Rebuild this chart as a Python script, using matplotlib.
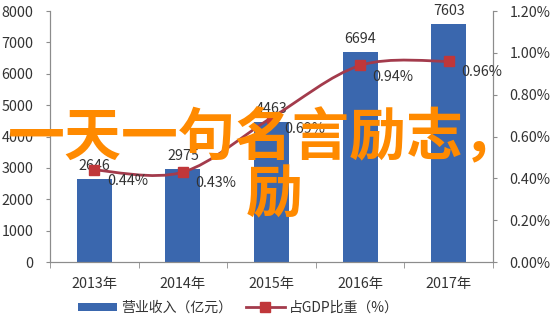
import matplotlib
matplotlib.use("Agg")
import matplotlib.pyplot as plt
import numpy as np
from matplotlib.path import Path
from matplotlib.patches import PathPatch, Patch
from matplotlib.lines import Line2D

plt.rcParams['font.family'] = ['Noto Sans CJK SC', 'DejaVu Sans']

categories = ["2013年", "2014年", "2015年", "2016年", "2017年"]
revenue = [2646, 2975, 4463, 6694, 7603]
gdp_share = [0.44, 0.43, 0.69, 0.94, 0.96]
left_ticks = [0, 1000, 2000, 3000, 4000, 5000, 6000, 7000, 8000]
right_ticks = [0.0, 0.2, 0.4, 0.6, 0.8, 1.0, 1.2]
legend_labels = ["营业收入（亿元）", "占GDP比重（%）"]
overlay_text = "一天一句名言励志，"
overlay_text2 = "励"

bar_color = "#3A67AE"
line_color = "#A33B4C"
marker_color = "#C0373A"
axis_color = "#8C8C8C"
text_color = "#333333"
fs = 10.3

fig = plt.figure(figsize=(5.5, 3.17), dpi=100)
ax = fig.add_axes([0.0909, 0.1735, 0.8055, 0.7915])
ax2 = ax.twinx()

x = np.arange(len(categories))
ax.bar(x, revenue, width=0.395, color=bar_color, zorder=2)
ax.set_xlim(-0.5, len(categories) - 0.5)
ax.set_ylim(0, 8000)
ax.set_yticks(left_ticks)
ax.set_yticklabels([str(t) for t in left_ticks], fontsize=fs, color=text_color)
ax.set_xticks(x)
ax.set_xticklabels(categories, fontsize=fs, color=text_color)
ax.tick_params(axis='x', length=0, pad=11)
ax.set_xticks(np.arange(len(categories) + 1) - 0.5, minor=True)
ax.tick_params(axis='x', which='minor', length=4, color=axis_color, direction='out')
ax.tick_params(axis='y', length=3, color=axis_color, direction='out', pad=9)

ax.spines['top'].set_visible(False)
ax2.spines['top'].set_visible(False)
for s in ['left', 'right', 'bottom']:
    ax.spines[s].set_color(axis_color)
    ax2.spines[s].set_color(axis_color)

ax2.set_ylim(0, 1.2)
ax2.set_yticks(right_ticks)
ax2.set_yticklabels([f"{t:.2f}%" for t in right_ticks], fontsize=fs, color=text_color)
ax2.tick_params(axis='y', length=3, color=axis_color, direction='out', pad=9)

# smooth line via cubic Bezier through data points (Catmull-Rom style)
pts = np.column_stack([x, gdp_share]).astype(float)
verts = [tuple(pts[0])]
codes = [Path.MOVETO]
n = len(pts)
for i in range(n - 1):
    p0 = pts[i - 1] if i > 0 else pts[i]
    p1 = pts[i]
    p2 = pts[i + 1]
    p3 = pts[i + 2] if i + 2 < n else pts[i + 1]
    c1 = p1 + (p2 - p0) / 6.0
    c2 = p2 - (p3 - p1) / 6.0
    verts += [tuple(c1), tuple(c2), tuple(p2)]
    codes += [Path.CURVE4, Path.CURVE4, Path.CURVE4]
ax2.add_patch(PathPatch(Path(verts, codes), facecolor='none', edgecolor=line_color, lw=2.0, zorder=3))
ax2.plot(x, gdp_share, linestyle='none', marker='s', markersize=6.5, color=marker_color, zorder=4)

for xi, v in zip(x, revenue):
    ax.annotate(str(v), (xi, v), xytext=(0, 4), textcoords='offset points',
                ha='center', va='bottom', fontsize=fs, color=text_color)
for xi, v in zip(x, gdp_share):
    ax2.annotate(f"{v:.2f}%", (xi, v), xytext=(9, -3), textcoords='offset points',
                 ha='left', va='top', fontsize=fs, color=text_color)

handles = [Patch(facecolor=bar_color, edgecolor='none'),
           Line2D([0], [0], color=line_color, lw=2, marker='s', markersize=6.5,
                  markerfacecolor=marker_color, markeredgecolor=marker_color)]
fig.legend(handles, legend_labels, loc='center', bbox_to_anchor=(0.433, 0.03),
           ncol=2, frameon=False, fontsize=10, handlelength=2.8, columnspacing=1.0,
           labelcolor=text_color, handletextpad=0.3, handleheight=0.5)

fig.text(8 / 550, 0.565, overlay_text, fontsize=41, color="#FF8A00", ha='left', va='center',
         fontweight='bold', zorder=10)
fig.text(274 / 550, 1 - 195 / 317, overlay_text2, fontsize=41, color="#FF8A00", ha='center',
         va='center', fontweight='bold', zorder=10)

fig.savefig("out.png", dpi=100)
